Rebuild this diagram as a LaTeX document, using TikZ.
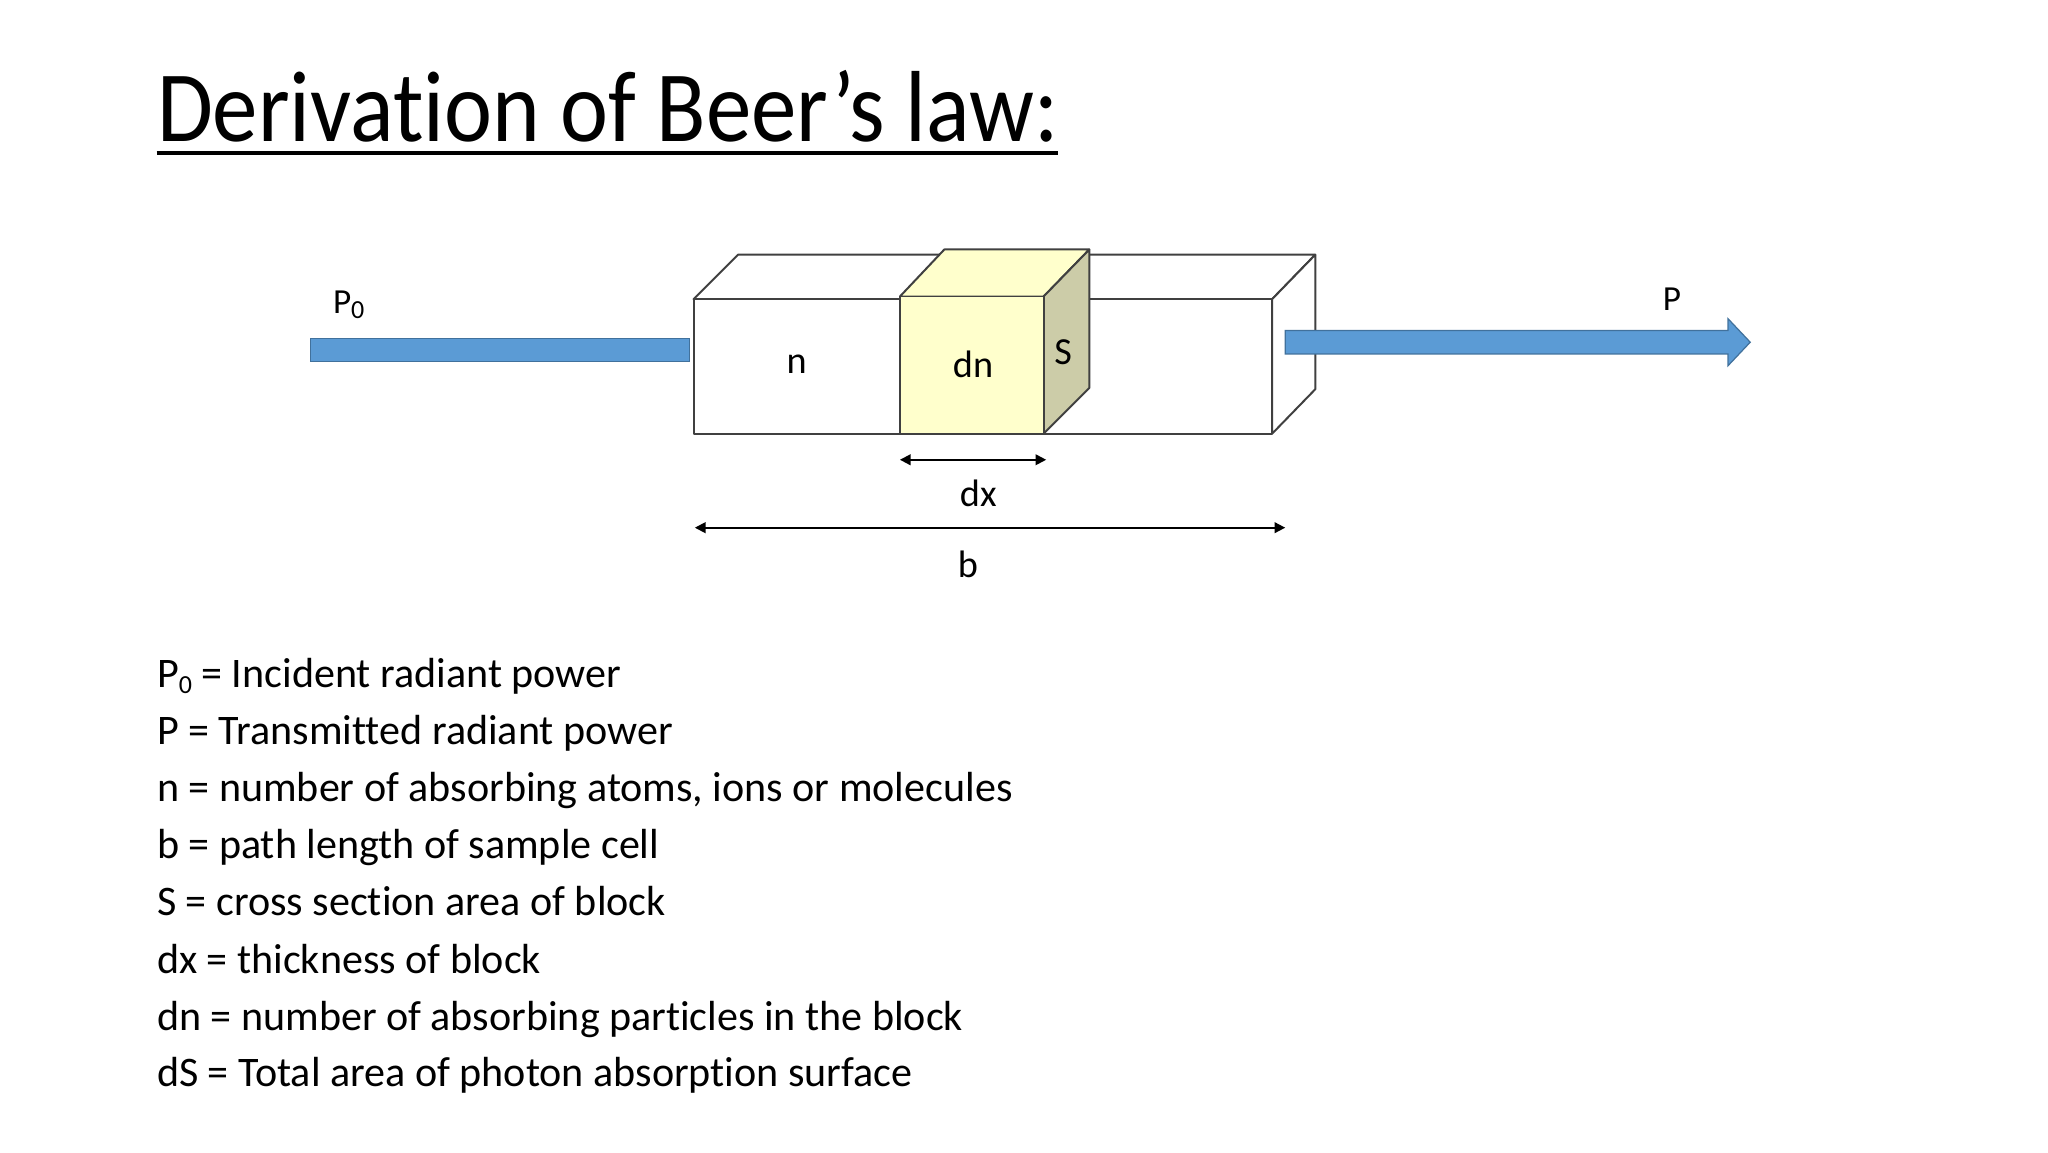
\documentclass[tikz,border=0pt]{standalone}
\usepackage{fontspec}
\setmainfont[Ligatures={NoCommon,NoRare}]{Carlito}
\usetikzlibrary{arrows.meta}
\definecolor{bar}{HTML}{5B9BD5}
\definecolor{barline}{HTML}{41719C}
\definecolor{cubefront}{HTML}{FFFFCC}
\definecolor{cubeside}{HTML}{CCCCA8}
\newcommand{\lowsub}[1]{\raisebox{-0.3ex}{\fontsize{17}{20}\selectfont #1}}
\tikzset{
  edge/.style={draw=black!75, line width=1.3pt, line join=round},
  lbl/.style={font=\fontsize{25}{30}\selectfont, inner sep=0pt},
  smalllbl/.style={font=\fontsize{23}{27}\selectfont, inner sep=0pt},
  dim/.style={line width=1.2pt, {Triangle[width=7pt,length=7pt]}-{Triangle[width=7pt,length=7pt]}},
  listline/.style={font=\fontsize{27.5}{32}\selectfont, anchor=base west, inner sep=0pt}
}
\begin{document}
\begin{tikzpicture}[x=0.03cm,y=-0.03cm]
\useasboundingbox (0,0) rectangle (1568,882);
% title
\node[anchor=base west, inner sep=0pt, font=\fontsize{66}{70}\selectfont, xscale=0.9] (title) at (120,108) {Derivation of Beer’s law:};
\draw[line width=2.2pt] (120,117) -- (810,117);
% long box
\draw[edge, fill=white] (531,229) -- (565,195) -- (1007,195) -- (974,229) -- cycle;
\draw[edge, fill=white] (974,229) -- (1007,195) -- (1007,298) -- (974,332) -- cycle;
\draw[edge, fill=white] (531,229) rectangle (974,332);
% cube
\draw[edge, fill=cubefront] (689,227) -- (723,191) -- (834,191) -- (799,227) -- cycle;
\draw[edge, fill=cubeside] (799,227) -- (834,191) -- (834,297) -- (799,332) -- cycle;
\draw[edge, fill=cubefront] (689,227) rectangle (799,332);
% bars
\draw[fill=bar, draw=barline, line width=0.8pt] (238,259) rectangle (528,277);
\draw[fill=bar, draw=barline, line width=0.8pt] (984,253) -- (1323,253) -- (1323,244) -- (1340,262) -- (1323,280) -- (1323,271) -- (984,271) -- cycle;
% labels
\node[smalllbl] (p0) at (267,233) {P\lowsub{0}};
\node[smalllbl] (p) at (1280,229) {P};
\node[lbl] (n) at (610,279) {n};
\node[lbl] (dn) at (745,279) {dn};
\node[lbl] (s) at (814,270) {S};
% dims
\coordinate (dxa) at (689,352); \coordinate (dxb) at (801,352);
\draw[dim] (dxa) -- (dxb);
\node[lbl] (dx) at (749,378) {dx};
\coordinate (ba) at (532,404); \coordinate (bb) at (984,404);
\draw[dim] (ba) -- (bb);
\node[lbl] (b) at (741,432) {b};
% list
\node[listline] (l1) at (120,526) {P\lowsub{0} = Incident radiant power};
\node[listline] (l2) at (120,570) {P = Transmitted radiant power};
\node[listline] (l3) at (120,614) {n = number of absorbing atoms, ions or molecules};
\node[listline] (l4) at (120,657) {b = path length of sample cell};
\node[listline] (l5) at (120,701) {S = cross section area of block};
\node[listline] (l6) at (120,745) {dx = thickness of block};
\node[listline] (l7) at (120,789) {dn = number of absorbing particles in the block};
\node[listline] (l8) at (120,832) {dS = Total area of photon absorption surface};
\end{tikzpicture}
\end{document}
